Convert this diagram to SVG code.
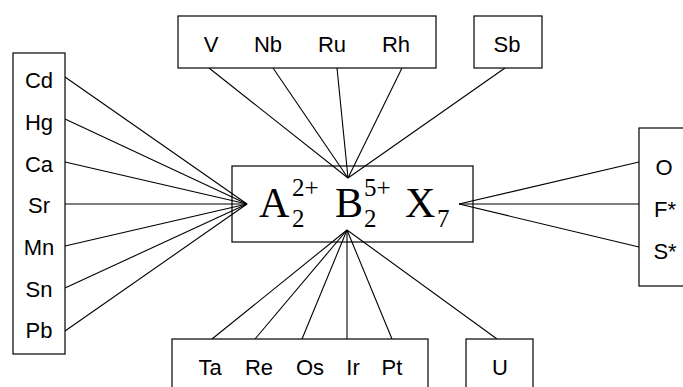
<svg xmlns="http://www.w3.org/2000/svg" width="683" height="387" viewBox="0 0 683 387">
<style>
.box{fill:#fff;stroke:#000;stroke-width:1.2}
.lbl{font-family:"Liberation Sans",Arial,sans-serif;font-size:22px;fill:#000;text-anchor:middle}
.f{font-family:"Liberation Serif","Times New Roman",serif;fill:#000}
.c line{stroke:#000;stroke-width:1.1}
</style>
<rect width="683" height="387" fill="#fff"/>
<g id="center">
<rect class="box" x="232" y="166" width="241" height="76"/>
<text class="f" x="259" y="217" font-size="42">A</text>
<text class="f" x="292" y="196" font-size="25">2+</text>
<text class="f" x="292" y="227" font-size="25">2</text>
<text class="f" x="335" y="217" font-size="42">B</text>
<text class="f" x="364" y="196" font-size="25">5+</text>
<text class="f" x="364" y="227" font-size="25">2</text>
<text class="f" x="405" y="217" font-size="42">X</text>
<text class="f" x="437" y="227" font-size="25">7</text>
</g>
<g class="c" id="connectors">
<line x1="65" y1="77" x2="247" y2="204"/>
<line x1="65" y1="119" x2="247" y2="204"/>
<line x1="65" y1="162" x2="247" y2="204"/>
<line x1="65" y1="204" x2="247" y2="204"/>
<line x1="65" y1="246" x2="247" y2="204"/>
<line x1="65" y1="288" x2="247" y2="204"/>
<line x1="65" y1="331" x2="247" y2="204"/>
<line x1="209" y1="68" x2="348" y2="178"/>
<line x1="273" y1="68" x2="348" y2="178"/>
<line x1="337" y1="68" x2="348" y2="178"/>
<line x1="402" y1="68" x2="348" y2="178"/>
<line x1="505" y1="68" x2="348" y2="178"/>
<line x1="347" y1="230" x2="212" y2="339"/>
<line x1="347" y1="230" x2="255" y2="339"/>
<line x1="347" y1="230" x2="302" y2="339"/>
<line x1="347" y1="230" x2="347" y2="339"/>
<line x1="347" y1="230" x2="392" y2="339"/>
<line x1="347" y1="230" x2="497" y2="339"/>
<line x1="459" y1="204" x2="639" y2="162"/>
<line x1="459" y1="204" x2="639" y2="204"/>
<line x1="459" y1="204" x2="639" y2="247"/>
</g>
<g id="left">
<rect class="box" x="13" y="53" width="52" height="301"/>
<text class="lbl" x="39" y="88">Cd</text>
<text class="lbl" x="39" y="130">Hg</text>
<text class="lbl" x="39" y="172">Ca</text>
<text class="lbl" x="39" y="213">Sr</text>
<text class="lbl" x="39" y="255">Mn</text>
<text class="lbl" x="39" y="297">Sn</text>
<text class="lbl" x="39" y="338">Pb</text>
</g>
<g id="topB">
<rect class="box" x="178" y="16" width="258" height="52"/>
<text class="lbl" x="211" y="52">V</text>
<text class="lbl" x="268" y="52">Nb</text>
<text class="lbl" x="332" y="52">Ru</text>
<text class="lbl" x="396" y="52">Rh</text>
</g>
<g id="topSb">
<rect class="box" x="474" y="16" width="68" height="52"/>
<text class="lbl" x="507" y="52">Sb</text>
</g>
<g id="bottomB">
<rect class="box" x="172" y="339" width="256" height="60"/>
<text class="lbl" x="210" y="375">Ta</text>
<text class="lbl" x="259" y="375">Re</text>
<text class="lbl" x="310" y="375">Os</text>
<text class="lbl" x="353" y="375">Ir</text>
<text class="lbl" x="392" y="375">Pt</text>
</g>
<g id="bottomU">
<rect class="box" x="466" y="339" width="67" height="60"/>
<text class="lbl" x="500" y="375">U</text>
</g>
<g id="right">
<rect class="box" x="639" y="128" width="60" height="158"/>
<text class="lbl" x="664" y="175">O</text>
<text class="lbl" x="665" y="217">F*</text>
<text class="lbl" x="665" y="259">S*</text>
</g>
</svg>
